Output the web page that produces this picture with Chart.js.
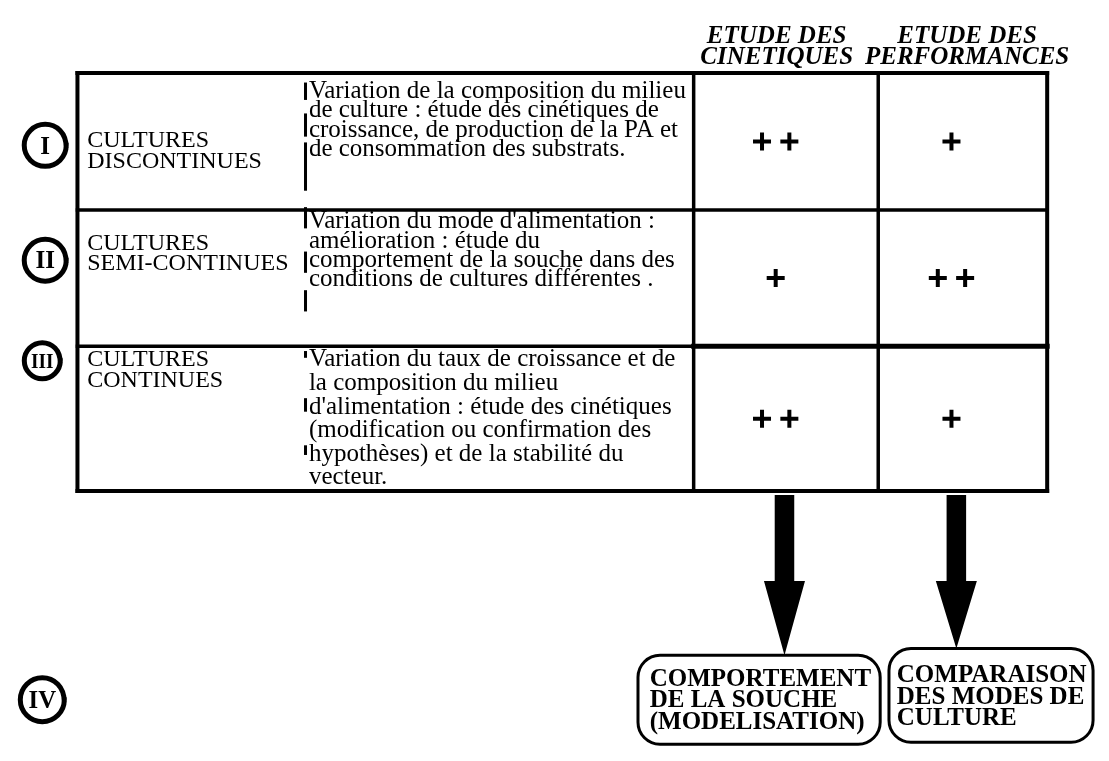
<!DOCTYPE html>
<html>
<head>
<meta charset="utf-8">
<script src="https://cdn.jsdelivr.net/npm/chart.js@4.4.0/dist/chart.umd.min.js"></script>
<style>
  html, body { margin: 0; padding: 0; background: #fff; }
  #wrap { width: 1109px; height: 761px; }
</style>
</head>
<body>
<div id="wrap"><canvas id="plan" width="1109" height="761"></canvas></div>
<script>
// --- DONNÉES ---
const rowNumerals = ['I', 'II', 'III'];
const rowNames = [
  ['CULTURES', 'DISCONTINUES'],
  ['CULTURES', 'SEMI-CONTINUES'],
  ['CULTURES', 'CONTINUES']
];
const rowDescriptions = [
  ['Variation de la composition du milieu',
   'de culture : étude des cinétiques de',
   'croissance, de production de la PA et',
   'de consommation des substrats.'],
  ["Variation du mode d'alimentation :",
   'amélioration : étude du',
   'comportement de la souche dans des',
   'conditions de cultures différentes .'],
  ['Variation du taux de croissance et de',
   'la composition du milieu',
   "d'alimentation : étude des cinétiques",
   '(modification ou confirmation des',
   'hypothèses) et de la stabilité du',
   'vecteur.']
];
const columnHeaders = [['ETUDE DES', 'CINETIQUES'], ['ETUDE DES', 'PERFORMANCES']];
const kineticsScore = [2, 1, 2];      // nombre de « + »
const performanceScore = [1, 2, 1];
const outcomeBoxes = [
  ['COMPORTEMENT', 'DE LA SOUCHE', '(MODELISATION)'],
  ['COMPARAISON', 'DES MODES DE', 'CULTURE']
];
const lastNumeral = 'IV';

// --- MISE EN PAGE (unités des axes = pixels) ---
const W = 1109, H = 761;
const box = { left: 66, right: 1059, cols: [697, 886], rows: [62, 204, 345, 495] };
const nameX = 76, descX = 303;
const nameBase = [[139, 160], [245, 266], [366, 387]];
const descFirst = [88, 223, 366], descLead = [20, 20, 24.4];
const headerX = [782, 977], headerBase = [31, 53];
const markX = [781, 961], markGap = 28;
const circles = [{ x: 33, y: 137, r: 21 }, { x: 33, y: 256, r: 21 }, { x: 30, y: 360, r: 18 }];
const lastCircle = { x: 30, y: 711, r: 22 };
const arrows = [{ x: 790, top: 499, head: 588, tip: 665 }, { x: 966, top: 499, head: 588, tip: 658 }];
const outBox = [{ l: 640, r: 888, t: 665, b: 757, tx: 652, base: 697 }, { l: 897, r: 1106, t: 658, b: 755, tx: 905, base: 693 }];
// petits curseurs « | » du document d'origine : [ligne, rangée de texte, haut, bas]
const carets = [[0, 0, -16, 2], [0, 2, -24, 0], [0, 3, -14, 36], [1, 0, -22, 0], [1, 2, -16, 6], [1, 4, -16, 6], [2, 0, -16, -9], [2, 2, -16, -2], [2, 4, -16, -6]];

const SERIF = '"Liberation Serif", "Times New Roman", serif';

// points des « + » construits depuis les scores
const markPoints = [];
[kineticsScore, performanceScore].forEach((scores, c) => {
  scores.forEach((n, r) => {
    const cy = (box.rows[r] + box.rows[r + 1]) / 2;
    for (let k = 0; k < n; k++) markPoints.push({ x: markX[c] + (k - (n - 1) / 2) * markGap, y: cy });
  });
});

const tablePlugin = {
  id: 'tablePlugin',
  beforeDatasetsDraw(chart) {
    const { ctx, scales: { x: xs, y: ys } } = chart;
    const px = (v) => xs.getPixelForValue(v);
    const py = (v) => ys.getPixelForValue(v);
    const line = (x1, y1, x2, y2, w) => {
      ctx.lineWidth = w; ctx.beginPath();
      ctx.moveTo(px(x1), py(y1)); ctx.lineTo(px(x2), py(y2)); ctx.stroke();
    };
    const text = (s, x, y, font, align = 'left', maxW) => {
      ctx.font = font; ctx.textAlign = align; ctx.textBaseline = 'alphabetic';
      if (maxW) ctx.fillText(s, px(x), py(y), maxW); else ctx.fillText(s, px(x), py(y));
    };

    ctx.save();
    ctx.fillStyle = '#000';
    ctx.strokeStyle = '#000';
    ctx.lineCap = 'square';

    // en-têtes
    columnHeaders.forEach((lines, c) => lines.forEach((s, i) =>
      text(s, headerX[c], headerBase[i], `italic bold 25px ${SERIF}`, 'center')));

    // cadre du tableau
    line(box.left, box.rows[0], box.right, box.rows[0], 4);
    line(box.left, box.rows[3], box.right, box.rows[3], 4);
    line(box.left, box.rows[0], box.left, box.rows[3], 4);
    line(box.right, box.rows[0], box.right, box.rows[3], 4);
    line(box.left, box.rows[1], box.right, box.rows[1], 3.5);
    line(box.left, box.rows[2], box.cols[0], box.rows[2], 3.5);
    line(box.cols[0], box.rows[2], box.right, box.rows[2], 5);
    box.cols.forEach((cx) => line(cx, box.rows[0], cx, box.rows[3], 3.5));

    // numéros cerclés
    const ring = (c, label, size) => {
      ctx.lineWidth = 5; ctx.beginPath();
      ctx.arc(px(c.x), py(c.y), c.r, 0, Math.PI * 2); ctx.stroke();
      text(label, c.x, c.y + size * 0.34, `bold ${size}px ${SERIF}`, 'center', c.r * 1.25);
    };
    rowNumerals.forEach((n, i) => ring(circles[i], n, i === 2 ? 22 : 25));
    ring(lastCircle, lastNumeral, 25);

    // noms et descriptions
    rowNames.forEach((lines, r) => lines.forEach((s, i) => text(s, nameX, nameBase[r][i], `24px ${SERIF}`)));
    rowDescriptions.forEach((lines, r) => lines.forEach((s, i) =>
      text(s, descX, descFirst[r] + i * descLead[r], `25px ${SERIF}`)));
    carets.forEach(([r, i, up, down]) => {
      const b = descFirst[r] + i * descLead[r];
      ctx.fillRect(px(descX - 5), py(b + up), 3, py(b + down) - py(b + up));
    });

    // flèches
    arrows.forEach((a) => {
      ctx.beginPath();
      ctx.moveTo(px(a.x - 10), py(a.top));
      ctx.lineTo(px(a.x + 10), py(a.top));
      ctx.lineTo(px(a.x + 10), py(a.head));
      ctx.lineTo(px(a.x + 21), py(a.head));
      ctx.lineTo(px(a.x), py(a.tip));
      ctx.lineTo(px(a.x - 21), py(a.head));
      ctx.lineTo(px(a.x - 10), py(a.head));
      ctx.closePath(); ctx.fill();
    });

    // cadres de conclusion
    outBox.forEach((b, k) => {
      ctx.lineWidth = 3; ctx.beginPath();
      ctx.roundRect(px(b.l), py(b.t), px(b.r) - px(b.l), py(b.b) - py(b.t), 22);
      ctx.stroke();
      outcomeBoxes[k].forEach((s, i) => text(s, b.tx, b.base + i * 22, `bold 25px ${SERIF}`));
    });
    ctx.restore();
  }
};

new Chart(document.getElementById('plan'), {
  type: 'scatter',
  data: {
    datasets: [{
      data: markPoints,
      pointStyle: 'cross',
      pointRadius: 9,
      pointHoverRadius: 9,
      borderColor: '#000',
      borderWidth: 4
    }]
  },
  options: {
    responsive: false,
    animation: false,
    events: [],
    layout: { padding: 0 },
    plugins: { legend: { display: false }, tooltip: { enabled: false } },
    scales: {
      x: { type: 'linear', min: 0, max: W, display: false },
      y: { type: 'linear', min: 0, max: H, reverse: true, display: false }
    }
  },
  plugins: [tablePlugin]
});
</script>
</body>
</html>
